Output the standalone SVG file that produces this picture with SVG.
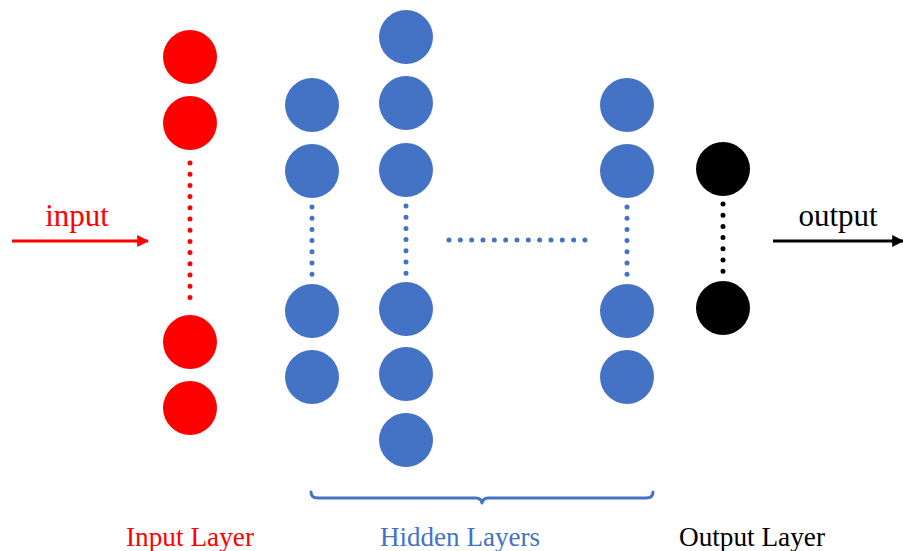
<svg xmlns="http://www.w3.org/2000/svg" width="903" height="551" viewBox="0 0 903 551">
  <defs>
    <style>
      .red { fill: #ff0000; }
      .blue { fill: #4472c4; }
      .black { fill: #000000; }
      .dots { fill: none; stroke-width: 5; stroke-linecap: round; stroke-dasharray: 0 11.2; }
      .lbl { font-family: "Liberation Serif", "Times New Roman", serif; font-size: 27px; text-anchor: middle; }
      .io { font-size: 31px; }
    </style>
    <marker id="ahRed" viewBox="0 0 10 10" refX="9" refY="5" markerWidth="4" markerHeight="4" orient="auto" markerUnits="strokeWidth">
      <path d="M0,0 L10,5 L0,10 z" fill="#ff0000"/>
    </marker>
    <marker id="ahBlack" viewBox="0 0 10 10" refX="9" refY="5" markerWidth="4" markerHeight="4" orient="auto" markerUnits="strokeWidth">
      <path d="M0,0 L10,5 L0,10 z" fill="#000000"/>
    </marker>
  </defs>
  <rect width="903" height="551" fill="#ffffff"/>

  <!-- input layer -->
  <g id="input-layer" class="red">
    <circle cx="190" cy="57" r="27"/>
    <circle cx="190" cy="123" r="27"/>
    <circle cx="190" cy="342" r="27"/>
    <circle cx="190" cy="408" r="27"/>
  </g>

  <!-- hidden layer 1 -->
  <g id="hidden-1" class="blue">
    <circle cx="312" cy="105" r="27"/>
    <circle cx="312" cy="171" r="27"/>
    <circle cx="312" cy="311" r="27"/>
    <circle cx="312" cy="377" r="27"/>
  </g>

  <!-- hidden layer 2 -->
  <g id="hidden-2" class="blue">
    <circle cx="406" cy="37" r="27"/>
    <circle cx="406" cy="103" r="27"/>
    <circle cx="406" cy="170" r="27"/>
    <circle cx="406" cy="309" r="27"/>
    <circle cx="406" cy="374" r="27"/>
    <circle cx="406" cy="440" r="27"/>
  </g>

  <!-- last hidden layer -->
  <g id="hidden-n" class="blue">
    <circle cx="627" cy="105" r="27"/>
    <circle cx="627" cy="171" r="27"/>
    <circle cx="627" cy="311" r="27"/>
    <circle cx="627" cy="377" r="27"/>
  </g>

  <!-- output layer -->
  <g id="output-layer" class="black">
    <circle cx="723" cy="169" r="27"/>
    <circle cx="723" cy="308" r="27"/>
  </g>

  <!-- ellipsis dots -->
  <g id="ellipses">
    <line class="dots" x1="190" y1="163" x2="190" y2="300" stroke="#ff0000"/>
    <line class="dots" x1="312" y1="207" x2="312" y2="275" stroke="#4472c4"/>
    <line class="dots" x1="406" y1="206" x2="406" y2="274" stroke="#4472c4"/>
    <line class="dots" x1="627" y1="207" x2="627" y2="275" stroke="#4472c4"/>
    <line class="dots" x1="723" y1="204" x2="723" y2="272" stroke="#000000"/>
    <line class="dots" x1="449" y1="240" x2="585" y2="240" stroke="#4472c4" style="stroke-dasharray:0 11.33"/>
  </g>

  <!-- connectors -->
  <g id="connectors">
    <line x1="12" y1="241" x2="148" y2="241" stroke="#ff0000" stroke-width="3" marker-end="url(#ahRed)"/>
    <line x1="773" y1="241" x2="903" y2="241" stroke="#000000" stroke-width="3" marker-end="url(#ahBlack)"/>
    <path d="M311,492 Q311,498 318,498 L476,498 Q481,498 482,503 Q483,498 488,498 L646,498 Q653,498 653,492" fill="none" stroke="#4472c4" stroke-width="3" stroke-linecap="round" stroke-linejoin="round"/>
  </g>

  <!-- labels -->
  <g id="labels">
    <text class="lbl io" x="77" y="226" fill="#ff0000">input</text>
    <text class="lbl io" x="838" y="226" fill="#000000">output</text>
    <text class="lbl" x="190" y="546" fill="#ff0000" textLength="128" lengthAdjust="spacingAndGlyphs">Input Layer</text>
    <text class="lbl" x="460" y="546" fill="#4472c4" textLength="160" lengthAdjust="spacingAndGlyphs">Hidden Layers</text>
    <text class="lbl" x="752" y="546" fill="#000000" textLength="146" lengthAdjust="spacingAndGlyphs">Output Layer</text>
  </g>
</svg>
